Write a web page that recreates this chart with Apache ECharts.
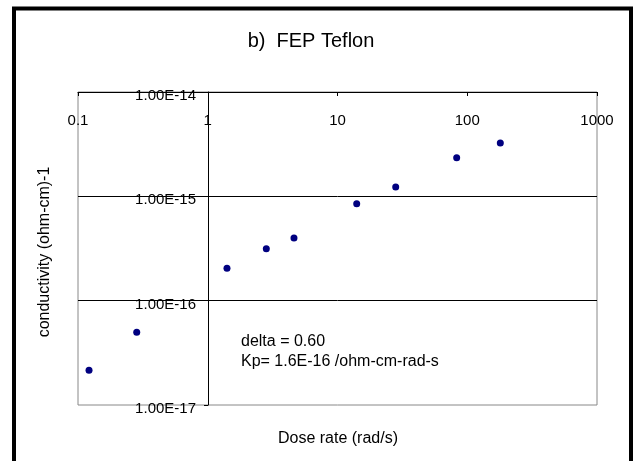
<!DOCTYPE html>
<html>
<head>
<meta charset="utf-8">
<script src="https://cdn.jsdelivr.net/npm/echarts@6/dist/echarts.min.js"></script>
<style>
html,body{margin:0;padding:0;background:#fff;}
#chart{width:639px;height:461px;}
</style>
</head>
<body>
<div id="chart"></div>
<script>
// Data
var doseRate = [0.1216, 0.2835, 1.407, 2.827, 4.62, 14.06, 28.09, 82.9, 179.8];
var conductivity = [2.15e-17, 4.97e-17, 2.04e-16, 3.15e-16, 3.99e-16, 8.50e-16, 1.229e-15, 2.346e-15, 3.245e-15];
var titleText = 'b)  FEP Teflon';
var xName = 'Dose rate (rad/s)';
var yName = 'conductivity (ohm-cm)-1';
var noteLines = ['delta = 0.60', 'Kp= 1.6E-16 /ohm-cm-rad-s'];

var points = doseRate.map(function (x, i) { return [x, conductivity[i]]; });
var FONT = 'Liberation Sans, Arial, sans-serif';

var chart = echarts.init(document.getElementById('chart'), null, {renderer: 'canvas'});
chart.setOption({
  animation: false,
  backgroundColor: '#ffffff',
  title: {
    text: titleText,
    left: 306, top: 26, textAlign: 'center',
    textStyle: {fontFamily: FONT, fontSize: 20, fontWeight: 'normal', color: '#000'}
  },
  grid: {
    left: 78, right: 42, top: 92, bottom: 56,
    show: true, borderColor: '#888888', borderWidth: 1, backgroundColor: '#ffffff'
  },
  xAxis: {
    type: 'log', logBase: 10, min: 0.1, max: 1000,
    position: 'top',
    axisLine: {show: true, onZero: false, lineStyle: {color: '#000', width: 1}},
    axisTick: {show: true, inside: true, length: 4, lineStyle: {color: '#000'}},
    axisLabel: {
      inside: true, margin: 21, color: '#000', fontFamily: FONT, fontSize: 15,
      showMinLabel: true, showMaxLabel: true,
      formatter: function (v) { return String(+Number(v).toPrecision(3)); }
    },
    splitLine: {show: false}
  },
  yAxis: {
    type: 'log', logBase: 10, min: 1e-17, max: 1e-14,
    position: 'left', offset: -130,
    axisLine: {show: true, onZero: false, lineStyle: {color: '#000', width: 1}},
    axisTick: {show: true, inside: false, length: 4, lineStyle: {color: '#000'}},
    axisLabel: {
      margin: 12, color: '#000', fontFamily: FONT, fontSize: 15,
      showMinLabel: true, showMaxLabel: true,
      formatter: function (v) { return '{a|' + Number(v).toExponential(2).toUpperCase() + '}'; },
      rich: {a: {fontFamily: FONT, fontSize: 15, color: '#000', padding: [8, 0, 0, 0]}}
    },
    splitLine: {show: true, showMinLine: false, showMaxLine: false, lineStyle: {color: '#000', width: 1}}
  },
  series: [{
    type: 'scatter',
    data: points,
    symbol: 'circle',
    symbolSize: 7,
    itemStyle: {color: '#000080', opacity: 1}
  }],
  graphic: [
    {
      type: 'rect', silent: true, z: 100,
      shape: {x: 14, y: 8.5, width: 617, height: 480},
      style: {fill: 'none', stroke: '#000', lineWidth: 4}
    },
    {
      type: 'text', left: 241, top: 331, silent: true,
      style: {text: noteLines.join('\n'), font: '16px ' + FONT, fill: '#000', lineHeight: 20.5}
    },
    {
      type: 'text', silent: true,
      x: 338, y: 438.5,
      style: {text: xName, font: '16px ' + FONT, fill: '#000', align: 'center', verticalAlign: 'middle'}
    },
    {
      type: 'text', silent: true,
      x: 45, y: 252, rotation: Math.PI / 2,
      style: {text: yName, font: '16px ' + FONT, fill: '#000', align: 'center', verticalAlign: 'middle'}
    }
  ]
});
</script>
</body>
</html>
